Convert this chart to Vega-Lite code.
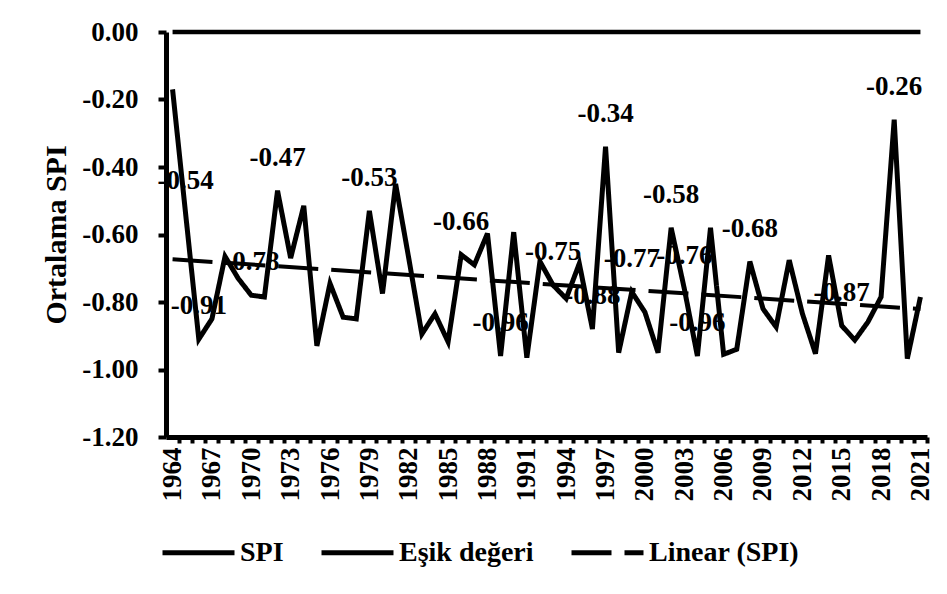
{
  "$schema": "https://vega.github.io/schema/vega-lite/v6.json",
  "autosize": {"type": "none"},
  "width": 761,
  "height": 405,
  "padding": {"left": 166, "top": 32, "right": 20, "bottom": 157},
  "background": "white",
  "config": {
    "view": {"stroke": null},
    "font": "Liberation Serif",
    "axis": {"labelFont": "Liberation Serif", "titleFont": "Liberation Serif", "labelColor": "black", "titleColor": "black", "domainColor": "black", "tickColor": "black", "grid": false}
  },
  "data": {
    "values": [
      {"year": 1964, "spi": -0.17, "esik": 0},
      {"year": 1965, "spi": -0.54, "esik": 0, "label": "-0.54"},
      {"year": 1966, "spi": -0.91, "esik": 0, "label": "-0.91"},
      {"year": 1967, "spi": -0.85, "esik": 0},
      {"year": 1968, "spi": -0.665, "esik": 0},
      {"year": 1969, "spi": -0.73, "esik": 0},
      {"year": 1970, "spi": -0.78, "esik": 0, "label": "-0.78"},
      {"year": 1971, "spi": -0.785, "esik": 0},
      {"year": 1972, "spi": -0.47, "esik": 0, "label": "-0.47"},
      {"year": 1973, "spi": -0.67, "esik": 0},
      {"year": 1974, "spi": -0.515, "esik": 0},
      {"year": 1975, "spi": -0.93, "esik": 0},
      {"year": 1976, "spi": -0.745, "esik": 0},
      {"year": 1977, "spi": -0.845, "esik": 0},
      {"year": 1978, "spi": -0.85, "esik": 0},
      {"year": 1979, "spi": -0.53, "esik": 0, "label": "-0.53"},
      {"year": 1980, "spi": -0.775, "esik": 0},
      {"year": 1981, "spi": -0.45, "esik": 0},
      {"year": 1982, "spi": -0.67, "esik": 0},
      {"year": 1983, "spi": -0.895, "esik": 0},
      {"year": 1984, "spi": -0.835, "esik": 0},
      {"year": 1985, "spi": -0.918, "esik": 0},
      {"year": 1986, "spi": -0.66, "esik": 0, "label": "-0.66"},
      {"year": 1987, "spi": -0.69, "esik": 0},
      {"year": 1988, "spi": -0.597, "esik": 0},
      {"year": 1989, "spi": -0.96, "esik": 0, "label": "-0.96"},
      {"year": 1990, "spi": -0.593, "esik": 0},
      {"year": 1991, "spi": -0.965, "esik": 0},
      {"year": 1992, "spi": -0.68, "esik": 0},
      {"year": 1993, "spi": -0.75, "esik": 0, "label": "-0.75"},
      {"year": 1994, "spi": -0.79, "esik": 0},
      {"year": 1995, "spi": -0.686, "esik": 0},
      {"year": 1996, "spi": -0.88, "esik": 0, "label": "-0.88"},
      {"year": 1997, "spi": -0.34, "esik": 0, "label": "-0.34"},
      {"year": 1998, "spi": -0.95, "esik": 0},
      {"year": 1999, "spi": -0.77, "esik": 0, "label": "-0.77"},
      {"year": 2000, "spi": -0.83, "esik": 0},
      {"year": 2001, "spi": -0.95, "esik": 0},
      {"year": 2002, "spi": -0.58, "esik": 0, "label": "-0.58"},
      {"year": 2003, "spi": -0.76, "esik": 0, "label": "-0.76"},
      {"year": 2004, "spi": -0.96, "esik": 0, "label": "-0.96"},
      {"year": 2005, "spi": -0.58, "esik": 0},
      {"year": 2006, "spi": -0.955, "esik": 0},
      {"year": 2007, "spi": -0.94, "esik": 0},
      {"year": 2008, "spi": -0.68, "esik": 0, "label": "-0.68"},
      {"year": 2009, "spi": -0.82, "esik": 0},
      {"year": 2010, "spi": -0.874, "esik": 0},
      {"year": 2011, "spi": -0.676, "esik": 0},
      {"year": 2012, "spi": -0.834, "esik": 0},
      {"year": 2013, "spi": -0.953, "esik": 0},
      {"year": 2014, "spi": -0.662, "esik": 0},
      {"year": 2015, "spi": -0.87, "esik": 0, "label": "-0.87"},
      {"year": 2016, "spi": -0.913, "esik": 0},
      {"year": 2017, "spi": -0.859, "esik": 0},
      {"year": 2018, "spi": -0.785, "esik": 0},
      {"year": 2019, "spi": -0.26, "esik": 0, "label": "-0.26"},
      {"year": 2020, "spi": -0.968, "esik": 0},
      {"year": 2021, "spi": -0.785, "esik": 0}
    ]
  },
  "encoding": {
    "x": {
      "field": "year", "type": "quantitative",
      "scale": {"domain": [1963.5, 2021.5], "nice": false, "zero": false},
      "axis": {
        "title": null,
        "values": [1964,1965,1966,1967,1968,1969,1970,1971,1972,1973,1974,1975,1976,1977,1978,1979,1980,1981,1982,1983,1984,1985,1986,1987,1988,1989,1990,1991,1992,1993,1994,1995,1996,1997,1998,1999,2000,2001,2002,2003,2004,2005,2006,2007,2008,2009,2010,2011,2012,2013,2014,2015,2016,2017,2018,2019,2020,2021],
        "labelExpr": "(datum.value - 1964) % 3 == 0 ? toString(datum.value) : ''",
        "labelAngle": -90,
        "labelFontSize": 27,
        "labelFontWeight": "bold",
        "labelFlush": false,
        "labelOverlap": false,
        "labelPadding": 4,
        "tickOffset": 6.56,
        "labelOffset": -6.56,
        "tickSize": 6,
        "tickWidth": 4,
        "domainWidth": 5
      }
    },
    "y": {
      "type": "quantitative",
      "scale": {"domain": [-1.2, 0], "nice": false},
      "axis": {
        "title": "Ortalama SPI",
        "values": [-1.2, -1, -0.8, -0.6, -0.4, -0.2, 0],
        "labelExpr": "replace(format(datum.value, '.2f'), '\u2212', '-')",
        "labelFontSize": 27,
        "labelFontWeight": "bold",
        "labelFlush": false,
        "labelPadding": 20,
        "tickSize": 8,
        "tickWidth": 4,
        "domainWidth": 5,
        "titleFontSize": 30,
        "titleFontWeight": "bold",
        "titlePadding": 10
      }
    }
  },
  "layer": [
    {
      "transform": [{"filter": "isValid(datum.label)"}],
      "mark": {"type": "text", "font": "Liberation Serif", "fontSize": 27, "fontWeight": "bold", "color": "black", "dy": -33, "baseline": "middle", "align": "center"},
      "encoding": {"y": {"field": "spi", "type": "quantitative"}, "text": {"field": "label"}}
    },
    {
      "mark": {"type": "line", "color": "black", "strokeWidth": 4.5},
      "encoding": {"y": {"field": "esik", "type": "quantitative"}, "strokeDash": {"datum": "Eşik değeri"}}
    },
    {
      "mark": {"type": "line", "color": "black", "strokeWidth": 5},
      "encoding": {"y": {"field": "spi", "type": "quantitative"}, "strokeDash": {"datum": "SPI"}}
    },
    {
      "transform": [{"regression": "spi", "on": "year", "extent": [1964, 2021]}],
      "mark": {"type": "line", "color": "black", "strokeWidth": 4},
      "encoding": {
        "y": {"field": "spi", "type": "quantitative"},
        "strokeDash": {
          "datum": "Linear (SPI)",
          "scale": {"domain": ["SPI", "Eşik değeri", "Linear (SPI)"], "range": [[1, 0], [1, 0], [40, 13]]},
          "legend": {
            "title": null,
            "orient": "none",
            "legendX": -6,
            "legendY": 482,
            "direction": "horizontal",
            "symbolType": "stroke",
            "symbolSize": 5184,
            "symbolStrokeWidth": 5,
            "symbolStrokeColor": "black",
            "labelFont": "Liberation Serif",
            "labelFontSize": 28,
            "labelFontWeight": "bold",
            "labelColor": "black",
            "labelOffset": 3,
            "columnPadding": 27,
            "labelLimit": 400
          }
        }
      }
    }
  ]
}
